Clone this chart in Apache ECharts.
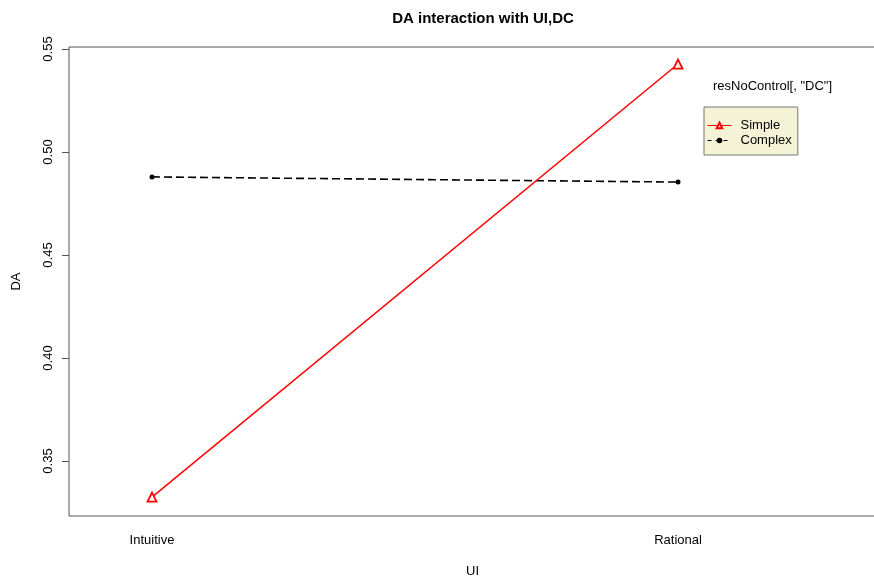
<!DOCTYPE html>
<html>
<head>
<meta charset="utf-8">
<script src="https://cdn.jsdelivr.net/npm/echarts@6/dist/echarts.min.js"></script>
<style>
  html, body { margin: 0; padding: 0; background: #fff; }
  #chart { width: 874px; height: 576px; }
</style>
</head>
<body>
<div id="chart"></div>
<script>
// Levels of UI on the horizontal axis (plotted at positions 1 and 2)
const uiLevels = ['Intuitive', 'Rational'];
const uiPositions = [1, 2];
// Mean DA for each DC level
const simpleDA = [0.3325, 0.5427];
const complexDA = [0.4879, 0.4854];
// Y-axis tick labels
const yTicks = [0.35, 0.40, 0.45, 0.50, 0.55];

const font = 'Liberation Sans, Arial, Helvetica, sans-serif';
const chart = echarts.init(document.getElementById('chart'), null, { renderer: 'canvas' });

const toPairs = (vals) => vals.map((v, i) => [uiPositions[i], v]);

chart.setOption({
  animation: false,
  backgroundColor: '#fff',
  title: {
    text: 'DA interaction with UI,DC',
    left: 478, top: 6, textAlign: 'center',
    textStyle: { fontFamily: font, fontSize: 15, fontWeight: 'bold', color: '#000' }
  },
  grid: {
    left: 69, top: 47, right: -2, bottom: 60,
    outerBoundsMode: 'none', containLabel: false,
    show: true, borderColor: '#555', borderWidth: 1, backgroundColor: 'transparent'
  },
  xAxis: {
    type: 'value',
    min: 0.8422, max: 2.3764,
    name: 'UI', nameLocation: 'middle', nameGap: 49,
    nameTextStyle: { fontFamily: font, fontSize: 13, color: '#000' },
    axisLine: { show: false },
    axisTick: { show: false },
    splitLine: { show: false },
    axisLabel: {
      customValues: uiPositions,
      formatter: (v) => uiLevels[uiPositions.indexOf(Math.round(v))] || '',
      margin: 18, fontFamily: font, fontSize: 13, color: '#000'
    }
  },
  yAxis: {
    type: 'value',
    min: 0.3233, max: 0.55097,
    name: 'DA', nameLocation: 'middle', nameGap: 46, nameRotate: 90,
    nameTextStyle: { fontFamily: font, fontSize: 13, color: '#000' },
    axisLine: { show: false },
    splitLine: { show: false },
    axisTick: {
      show: true, customValues: yTicks, length: 7,
      lineStyle: { color: '#555', width: 1 }
    },
    axisLabel: {
      customValues: yTicks, rotate: 90, margin: 14,
      formatter: (v) => v.toFixed(2),
      fontFamily: font, fontSize: 13, color: '#000'
    }
  },
  legend: {
    left: 704, top: 107, orient: 'vertical',
    data: [
      { name: 'Simple', lineStyle: { color: '#ff0000' } },
      { name: 'Complex', lineStyle: { type: [4, 4], color: '#000' } }
    ],
    backgroundColor: '#f5f3d6', borderColor: '#777', borderWidth: 1,
    padding: [12, 6, 8, 3], itemGap: 2,
    itemWidth: 24, itemHeight: 7,
    lineStyle: { width: 1 },
    textStyle: { fontFamily: font, fontSize: 13, color: '#000', padding: [0, 0, 0, 4] }
  },
  graphic: [{
    type: 'text', left: 713, top: 80,
    style: { text: 'resNoControl[, "DC"]', font: '13px ' + font, fill: '#000' }
  }],
  series: [
    {
      name: 'Simple', type: 'line', data: toPairs(simpleDA),
      symbol: 'triangle', symbolSize: 9, showAllSymbol: true,
      lineStyle: { color: '#ff0000', width: 1.5 },
      itemStyle: { color: '#fff', borderColor: '#ff0000', borderWidth: 1.8 },
      z: 3
    },
    {
      name: 'Complex', type: 'line', data: toPairs(complexDA),
      symbol: 'circle', symbolSize: 5, showAllSymbol: true,
      lineStyle: { color: '#000', width: 1.6, type: [8, 4] },
      itemStyle: { color: '#000', borderWidth: 0 },
      z: 2
    }
  ]
});
</script>
</body>
</html>
